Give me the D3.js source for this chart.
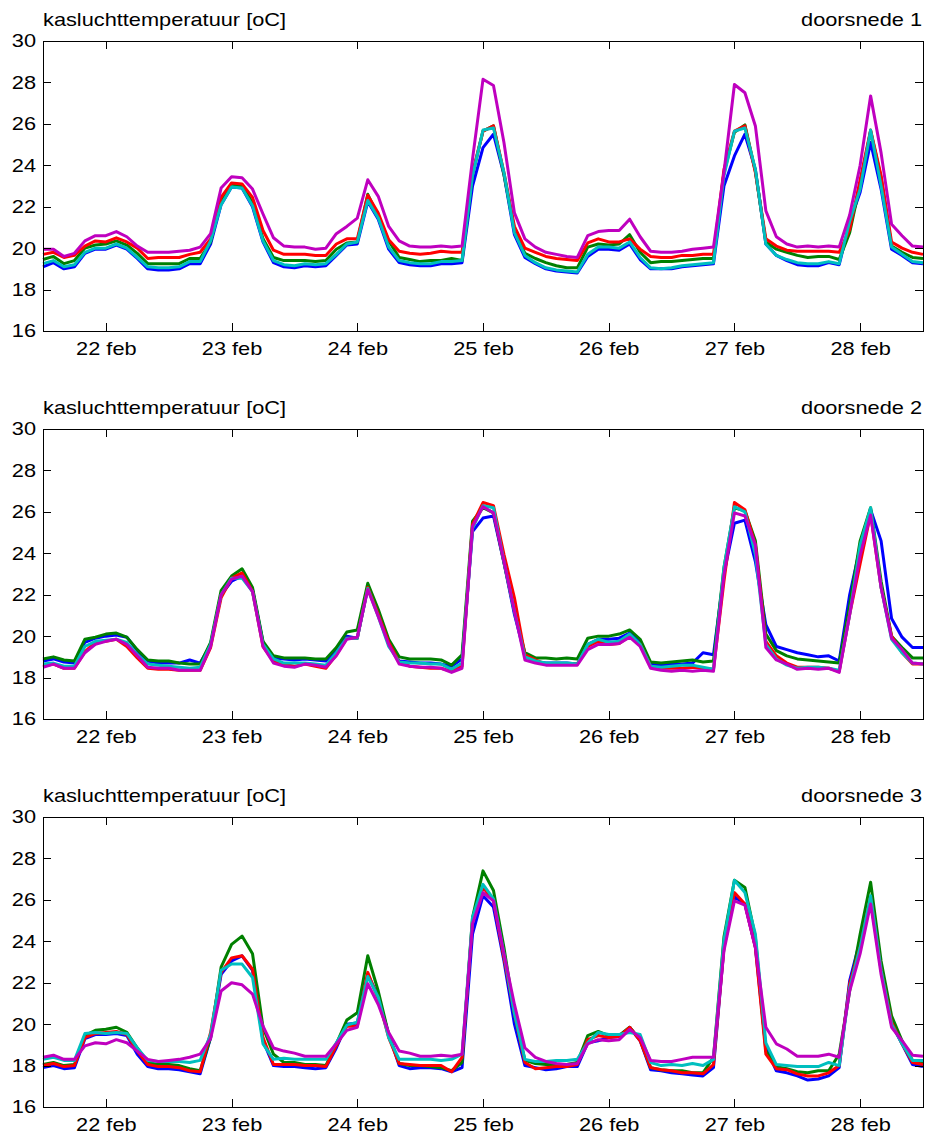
<!DOCTYPE html>
<html>
<head>
<meta charset="utf-8">
<script src="https://cdn.jsdelivr.net/npm/d3@7"></script>
<style>
  body { margin: 0; background: #fff; }
  svg { display: block; font-family: "Liberation Sans", Arial, sans-serif; }
</style>
</head>
<body>
<div id="container"></div>
<script>
/* CONSTANTS */
const width = 926,
  height = 1136;
const plotLeft = 43, plotRight = 923;
const panelTops = [41, 429, 817];
const panelHeight = 290;
const tickLen = 8;
const fontSize = 18.6;
const textStretch = 1.17; // the picture is a bit wider than tall

/* DATA: two-hourly samples from 21 feb 12:00 to 28 feb 12:00 */
const startDay = 21.5;
const stepDays = 2 / 24;

const seriesColors = ["#0000ff", "#008000", "#ff0000", "#00bfbf", "#bf00bf"];
const panelTitles = ["doorsnede 1", "doorsnede 2", "doorsnede 3"];
const yLabel = "kasluchttemperatuur [oC]";
const dayTicks = [22, 23, 24, 25, 26, 27, 28];
const dayLabels = ["22 feb", "23 feb", "24 feb", "25 feb", "26 feb", "27 feb", "28 feb"];
const yTicks = [16, 18, 20, 22, 24, 26, 28, 30];

// doorsnede 1
const d1Blue = [19.1,19.3,19.0,19.1,19.75,19.95,19.95,20.15,19.95,19.5,19.0,18.95,18.95,19.0,19.25,19.25,20.2,22.1,22.95,22.9,22.0,20.3,19.3,19.1,19.05,
  19.15,19.1,19.15,19.65,20.15,20.2,22.25,21.4,19.95,19.3,19.2,19.15,19.15,19.25,19.25,19.3,23.0,24.85,25.5,23.55,20.65,19.55,19.25,19.0,18.9,18.85,18.8,19.6,19.95,
  19.95,19.9,20.2,19.45,19.0,19.0,19.0,19.1,19.15,19.2,19.25,23.0,24.45,25.5,23.8,20.2,19.65,19.4,19.2,19.15,19.15,19.3,19.2,21.25,22.7,25.1,22.85,19.95,19.65,19.3,19.25];
const d1Green = [19.45,19.6,19.25,19.4,20.0,20.15,20.2,20.35,20.15,19.75,19.25,19.25,19.25,19.25,19.5,19.5,20.3,22.35,23.1,23.0,22.2,20.45,19.55,19.4,19.4,
  19.4,19.35,19.4,19.95,20.25,20.3,22.6,21.55,20.35,19.55,19.45,19.35,19.4,19.4,19.5,19.4,23.55,25.65,25.9,23.55,20.9,19.75,19.5,19.3,19.15,19.05,19.05,20.05,20.2,
  20.15,20.2,20.65,19.8,19.3,19.35,19.35,19.4,19.45,19.5,19.5,23.65,25.6,25.95,23.7,20.3,19.95,19.8,19.65,19.55,19.6,19.6,19.45,20.75,23.1,25.65,23.4,20.1,19.8,19.55,19.5];
const d1Red = [19.7,19.8,19.55,19.65,20.1,20.35,20.3,20.5,20.3,20.0,19.5,19.55,19.55,19.55,19.7,19.8,20.45,22.45,23.15,23.1,22.45,20.85,19.9,19.7,19.7,
  19.7,19.65,19.65,20.2,20.45,20.45,22.55,21.7,20.4,19.85,19.75,19.7,19.75,19.85,19.8,19.8,23.65,25.65,25.9,23.65,21.05,20.0,19.8,19.6,19.5,19.45,19.4,20.25,20.45,
  20.3,20.3,20.45,19.95,19.6,19.55,19.55,19.65,19.65,19.7,19.7,23.8,25.65,25.9,23.65,20.45,20.1,19.9,19.85,19.85,19.85,19.85,19.8,20.9,23.3,25.7,23.5,20.3,20.0,19.8,19.7];
const d1Cyan = [19.25,19.4,19.1,19.2,19.8,20.0,20.0,20.2,20.0,19.55,19.1,19.05,19.05,19.1,19.35,19.35,20.35,22.1,22.95,22.9,22.05,20.35,19.4,19.2,19.15,
  19.25,19.2,19.25,19.7,20.2,20.3,22.3,21.45,20.05,19.4,19.3,19.25,19.25,19.35,19.35,19.4,23.5,25.7,25.8,23.65,20.75,19.65,19.3,19.05,18.95,18.9,18.85,19.7,20.05,
  20.05,20.0,20.3,19.55,19.05,19.0,19.05,19.15,19.2,19.25,19.3,23.5,25.65,25.8,23.8,20.2,19.65,19.45,19.3,19.25,19.25,19.35,19.25,21.3,22.85,25.7,23.0,20.05,19.7,19.35,19.3];
const d1Magenta = [19.95,19.95,19.6,19.75,20.35,20.6,20.6,20.8,20.55,20.1,19.8,19.8,19.8,19.85,19.9,20.05,20.7,22.9,23.45,23.4,22.85,21.65,20.5,20.1,20.05,
  20.05,19.95,20.0,20.7,21.05,21.45,23.3,22.5,21.05,20.35,20.1,20.05,20.05,20.1,20.05,20.1,24.3,28.15,27.85,25.1,21.7,20.45,20.05,19.8,19.7,19.6,19.55,20.6,20.8,
  20.85,20.85,21.4,20.55,19.85,19.8,19.8,19.85,19.95,20.0,20.05,23.65,27.9,27.5,25.9,21.8,20.55,20.2,20.05,20.1,20.05,20.1,20.05,21.6,24.0,27.35,24.6,21.15,20.6,20.1,20.05];

// doorsnede 2
const d2Blue = [18.8,18.9,18.75,18.7,19.7,19.9,20.0,20.05,19.95,19.3,18.8,18.7,18.7,18.7,18.85,18.7,19.6,22.0,22.65,22.9,22.25,19.7,18.95,18.9,18.85,
  18.9,18.85,18.8,19.3,20.0,19.9,22.35,21.1,19.6,18.8,18.75,18.7,18.7,18.65,18.55,18.9,25.05,25.7,25.8,23.55,21.05,19.1,18.75,18.7,18.7,18.7,18.65,19.6,19.85,
  19.85,19.9,20.15,19.7,18.65,18.6,18.65,18.65,18.7,19.2,19.1,23.0,25.45,25.6,23.6,20.55,19.5,19.35,19.2,19.1,19.0,19.05,18.8,22.0,24.3,26.1,24.6,20.85,19.95,19.45,19.45];
const d2Green = [18.9,19.0,18.85,18.8,19.85,19.95,20.1,20.15,19.95,19.35,18.85,18.8,18.8,18.7,18.65,18.65,19.7,22.2,22.9,23.25,22.35,19.75,19.05,18.95,18.95,
  18.95,18.9,18.9,19.45,20.2,20.3,22.55,21.3,19.85,19.0,18.9,18.9,18.9,18.85,18.6,19.1,25.55,26.2,25.95,23.55,21.2,19.2,18.95,18.95,18.9,18.95,18.9,19.9,20.0,
  20.0,20.1,20.3,19.85,18.75,18.7,18.75,18.8,18.85,18.75,18.8,23.3,26.2,26.05,24.6,20.1,19.3,19.05,18.9,18.85,18.8,18.75,18.7,21.5,24.6,26.2,22.65,20.0,19.45,18.95,18.95];
const d2Red = [18.55,18.65,18.45,18.45,19.25,19.7,19.75,19.85,19.5,18.95,18.45,18.4,18.4,18.35,18.35,18.35,19.45,21.85,22.8,23.05,22.15,19.5,18.8,18.65,18.55,
  18.65,18.55,18.45,19.1,19.9,19.9,22.35,21.05,19.7,18.75,18.55,18.5,18.45,18.45,18.3,18.55,25.4,26.45,26.3,23.95,21.85,19.1,18.85,18.65,18.65,18.65,18.65,19.5,19.75,
  19.6,19.65,20.0,19.6,18.55,18.45,18.45,18.45,18.5,18.45,18.4,22.65,26.45,26.1,24.4,19.75,19.05,18.7,18.5,18.5,18.5,18.45,18.3,21.05,23.5,25.9,22.35,20.0,19.2,18.65,18.65];
const d2Cyan = [18.65,18.7,18.55,18.55,19.5,19.75,19.8,19.85,19.7,19.1,18.65,18.6,18.55,18.5,18.45,18.5,19.6,22.0,22.8,22.8,22.15,19.6,18.9,18.7,18.7,
  18.7,18.65,18.6,19.2,19.9,19.9,22.3,20.95,19.5,18.75,18.7,18.7,18.65,18.65,18.4,18.7,25.2,26.3,26.2,23.6,21.2,19.0,18.8,18.7,18.7,18.7,18.65,19.6,19.85,
  19.7,19.75,20.1,19.6,18.55,18.5,18.55,18.6,18.6,18.5,18.4,23.3,26.25,26.0,23.95,19.6,18.9,18.6,18.45,18.5,18.5,18.45,18.35,21.05,24.4,26.2,22.35,19.85,19.2,18.7,18.65];
const d2Magenta = [18.5,18.65,18.45,18.45,19.2,19.6,19.75,19.85,19.6,19.05,18.5,18.45,18.45,18.35,18.35,18.35,19.5,22.0,22.75,22.9,22.15,19.5,18.7,18.55,18.5,
  18.65,18.6,18.5,19.05,19.85,19.95,22.25,20.95,19.6,18.65,18.55,18.5,18.5,18.45,18.25,18.45,25.3,26.25,25.95,23.6,21.2,18.85,18.7,18.6,18.6,18.6,18.6,19.35,19.6,
  19.6,19.65,19.95,19.5,18.45,18.35,18.3,18.35,18.3,18.35,18.3,22.95,25.95,25.8,24.4,19.45,18.85,18.65,18.4,18.45,18.4,18.45,18.25,21.05,23.9,25.85,22.35,19.9,19.35,18.7,18.65];

// doorsnede 3
const d3Blue = [17.9,18.0,17.85,17.9,19.3,19.5,19.5,19.55,19.45,18.55,17.95,17.85,17.85,17.8,17.7,17.6,19.35,22.4,23.05,23.3,22.6,19.2,18.0,17.95,17.95,
  17.9,17.85,17.9,18.85,20.0,20.05,22.4,21.35,19.5,18.0,17.85,17.9,17.9,17.85,17.7,17.9,24.35,26.2,25.65,23.05,20.0,18.0,17.9,17.8,17.85,17.95,17.95,19.1,19.2,
  19.35,19.4,19.85,19.2,17.8,17.75,17.65,17.6,17.55,17.5,17.9,23.7,26.15,25.8,23.7,18.85,17.75,17.65,17.5,17.3,17.35,17.5,17.9,22.1,24.05,25.95,22.75,20.0,19.05,18.05,17.95];
const d3Green = [18.05,18.15,18.0,18.05,19.45,19.7,19.75,19.85,19.6,18.85,18.15,18.05,18.05,18.0,17.85,17.75,19.35,22.75,23.85,24.25,23.4,19.85,18.55,18.15,18.15,
  18.05,18.05,18.0,19.05,20.2,20.55,23.3,21.6,19.5,18.1,18.0,18.0,17.95,17.9,17.75,18.15,25.15,27.4,26.45,23.7,20.5,18.25,18.1,18.05,18.05,18.05,18.15,19.45,19.65,
  19.45,19.45,19.85,19.25,17.9,17.8,17.75,17.75,17.65,17.65,18.4,24.2,26.95,26.6,24.2,18.7,17.95,17.85,17.7,17.65,17.75,17.75,18.55,21.6,24.35,26.85,23.05,20.4,19.2,18.25,18.15];
const d3Red = [18.0,18.1,17.95,18.0,19.35,19.55,19.6,19.65,19.5,18.7,18.05,17.95,17.95,17.9,17.75,17.7,19.6,22.5,23.2,23.3,22.65,19.35,18.05,18.05,18.05,
  18.0,18.0,17.95,18.95,19.9,19.9,22.5,21.2,19.35,18.1,18.05,18.0,18.0,18.0,17.7,18.4,25.0,26.6,25.95,23.2,20.5,18.15,17.85,17.9,17.95,17.95,18.05,19.25,19.45,
  19.35,19.4,19.85,19.2,17.9,17.8,17.75,17.65,17.65,17.6,18.05,23.7,26.35,25.8,23.7,18.55,17.85,17.8,17.6,17.5,17.5,17.65,18.0,21.95,23.7,26.15,22.6,20.1,19.05,18.15,18.05];
const d3Cyan = [18.3,18.4,18.25,18.25,19.55,19.6,19.55,19.6,19.55,18.85,18.25,18.2,18.2,18.2,18.15,18.25,19.5,22.6,22.9,22.9,22.25,19.05,18.3,18.35,18.3,
  18.3,18.3,18.3,19.1,19.95,20.1,22.3,21.3,19.35,18.3,18.3,18.3,18.3,18.25,18.3,18.55,25.15,26.75,26.05,23.4,20.5,18.3,18.2,18.2,18.25,18.25,18.3,19.1,19.6,
  19.5,19.5,19.6,19.5,18.15,18.0,18.05,18.0,18.1,18.0,18.3,24.05,26.95,26.35,24.35,19.1,18.05,18.0,17.95,17.95,17.95,18.15,18.0,21.75,23.7,26.2,22.6,20.0,19.05,18.25,18.25];
const d3Magenta = [18.4,18.5,18.3,18.3,18.95,19.1,19.05,19.25,19.1,18.7,18.3,18.2,18.25,18.3,18.4,18.55,19.3,21.6,22.0,21.9,21.45,19.9,18.85,18.7,18.6,
  18.45,18.45,18.45,19.05,19.7,19.85,21.95,20.95,19.6,18.7,18.6,18.45,18.45,18.5,18.45,18.55,24.85,26.35,25.95,23.4,20.95,18.85,18.4,18.2,18.1,18.05,18.1,19.05,19.25,
  19.2,19.25,19.75,19.35,18.25,18.2,18.2,18.3,18.4,18.4,18.4,23.55,25.95,25.75,23.7,19.85,19.05,18.8,18.45,18.45,18.45,18.55,18.4,21.6,23.4,25.8,22.4,19.85,19.2,18.5,18.45];

// drawing order follows the colour order: blue, green, red, cyan, magenta
const panels = [
  [d1Blue, d1Green, d1Red, d1Cyan, d1Magenta],
  [d2Blue, d2Green, d2Red, d2Cyan, d2Magenta],
  [d3Blue, d3Green, d3Red, d3Cyan, d3Magenta]
];

/* DRAW */
const svg = d3.select("#container")
  .append("svg")
  .attr("width", width)
  .attr("height", height);

const xScale = d3.scaleLinear()
  .domain([21.5, 28.5])
  .range([plotLeft, plotRight]);

function styleLabels(sel) {
  sel.select(".domain").remove();
  sel.selectAll(".tick line")
    .attr("stroke", "#000")
    .attr("shape-rendering", "crispEdges");
  sel.selectAll(".tick text")
    .attr("fill", "#000")
    .attr("font-size", fontSize)
    .attr("font-family", '"Liberation Sans", Arial, sans-serif');
}

panels.forEach((series, i) => {
  const top = panelTops[i];
  const bottom = top + panelHeight;

  const yScale = d3.scaleLinear()
    .domain([16, 30])
    .range([bottom, top]);

  const g = svg.append("g");

  const line = d3.line()
    .x((d, j) => xScale(startDay + j * stepDays))
    .y(d => yScale(d));

  g.selectAll("path.series")
    .data(series)
    .join("path")
    .attr("class", "series")
    .attr("d", d => line(d))
    .attr("fill", "none")
    .attr("stroke", (d, j) => seriesColors[j])
    .attr("stroke-width", 3)
    .attr("stroke-linejoin", "round");

  // bottom axis with labels, ticks pointing inwards
  const xAxisGroup = g.append("g")
    .attr("transform", `translate(0, ${bottom})`)
    .call(d3.axisBottom(xScale)
      .tickValues(dayTicks)
      .tickFormat((d, j) => dayLabels[j])
      .tickSize(-tickLen)
      .tickSizeOuter(0)
      .tickPadding(11))
    .call(styleLabels);
  xAxisGroup.selectAll(".tick text")
    .attr("transform", `scale(${textStretch}, 1)`);

  g.append("g")
    .attr("transform", `translate(0, ${top})`)
    .call(d3.axisTop(xScale)
      .tickValues(dayTicks)
      .tickFormat("")
      .tickSize(-tickLen)
      .tickSizeOuter(0))
    .call(styleLabels);

  const yAxisGroup = g.append("g")
    .attr("transform", `translate(${plotLeft}, 0)`)
    .call(d3.axisLeft(yScale)
      .tickValues(yTicks)
      .tickFormat(d3.format("d"))
      .tickSize(-tickLen)
      .tickSizeOuter(0)
      .tickPadding(6))
    .call(styleLabels);
  yAxisGroup.selectAll(".tick text")
    .attr("transform", `scale(${textStretch}, 1)`);

  g.append("g")
    .attr("transform", `translate(${plotRight}, 0)`)
    .call(d3.axisRight(yScale)
      .tickValues(yTicks)
      .tickFormat("")
      .tickSize(-tickLen)
      .tickSizeOuter(0))
    .call(styleLabels);

  // axes box
  g.append("rect")
    .attr("x", plotLeft)
    .attr("y", top)
    .attr("width", plotRight - plotLeft)
    .attr("height", panelHeight)
    .attr("fill", "none")
    .attr("stroke", "#000")
    .attr("stroke-width", 1)
    .attr("shape-rendering", "crispEdges");

  // titles above the box
  g.append("text")
    .attr("transform", `translate(${plotLeft}, ${top - 15}) scale(${textStretch}, 1)`)
    .attr("font-size", fontSize)
    .attr("fill", "#000")
    .text(yLabel);

  g.append("text")
    .attr("transform", `translate(${plotRight - 1}, ${top - 15}) scale(${textStretch}, 1)`)
    .attr("text-anchor", "end")
    .attr("font-size", fontSize)
    .attr("fill", "#000")
    .text(panelTitles[i]);
});
</script>
</body>
</html>
